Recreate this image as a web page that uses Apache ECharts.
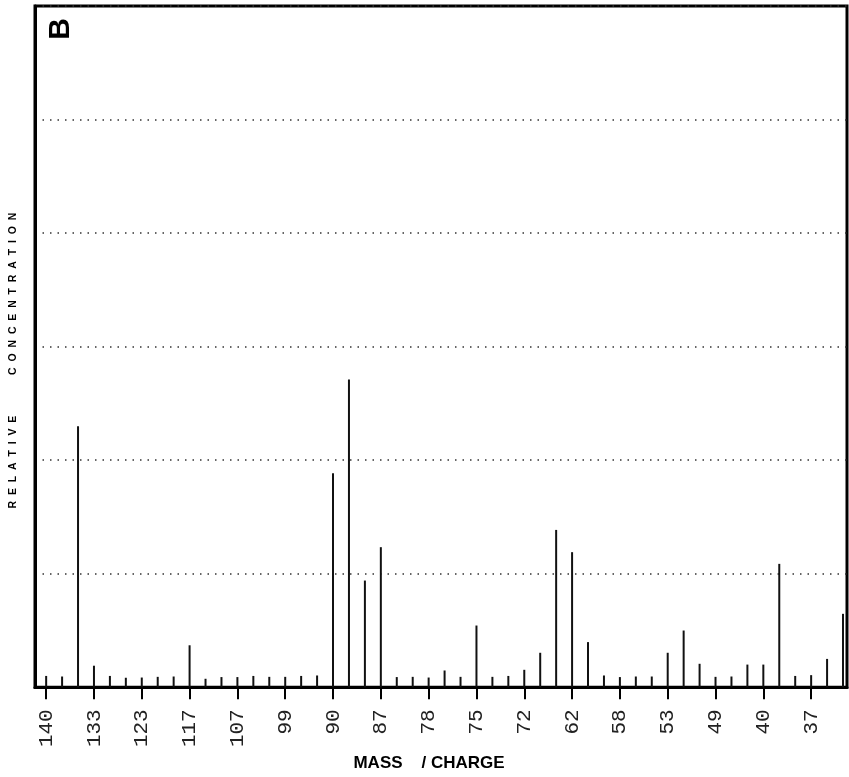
<!DOCTYPE html>
<html>
<head>
<meta charset="utf-8">
<script src="https://cdn.jsdelivr.net/npm/echarts@6/dist/echarts.min.js"></script>
<style>
html,body{margin:0;padding:0;background:#fff;}
#chart{width:849px;height:777px;}
</style>
</head>
<body>
<div id="chart"></div>
<script>
// Tick labels shown under every third peak slot (mass / charge)
const tickLabels = ["140","133","123","117","107","99","90","87","78","75","72","62","58","53","49","40","37"];
// Slot index of each labelled tick
const tickSlots = [0,3,6,9,12,15,18,21,24,27,30,33,36,39,42,45,48];
// Relative concentration of each peak slot, left to right (51 slots)
const peakValues = [
  0.10, 0.095, 2.30, 0.19, 0.10, 0.084, 0.086, 0.092, 0.095, 0.37,
  0.075, 0.09, 0.09, 0.10, 0.092, 0.092, 0.10, 0.104, 1.885, 2.71,
  0.94, 1.234, 0.09, 0.092, 0.086, 0.148, 0.092, 0.544, 0.092, 0.10,
  0.154, 0.304, 1.386, 1.19, 0.398, 0.104, 0.09, 0.095, 0.095, 0.304,
  0.50, 0.207, 0.092, 0.095, 0.20, 0.20, 1.087, 0.10, 0.107, 0.25,
  0.647
];
const panelLabel = "B";
const xName = "MASS    / CHARGE";
const yName = "R  E  L  A  T  I  V  E              C  O  N  C  E  N  T  R  A  T  I  O  N";

const chart = echarts.init(document.getElementById('chart'), null, {renderer:'canvas'});
const seriesData = peakValues.map((v, i) => [i, v]);

chart.setOption({
  animation: false,
  backgroundColor: '#ffffff',
  grid: {
    left: 35, right: 2, top: 6, bottom: 88,
    show: true, borderColor: '#000', borderWidth: 3, backgroundColor: 'transparent'
  },
  xAxis: {
    type: 'value',
    min: -0.7,
    max: 50.25,
    splitLine: {show: false},
    axisLine: {show: true, onZero: false, lineStyle: {color: '#000', width: 3}},
    axisTick: {
      show: true, inside: false, length: 12, customValues: tickSlots,
      lineStyle: {color: '#000', width: 2}
    },
    axisLabel: {
      show: true,
      customValues: tickSlots,
      rotate: 90,
      margin: 22,
      color: '#222',
      fontFamily: 'Liberation Mono',
      fontSize: 21,
      formatter: function (v) {
        const k = tickSlots.indexOf(Math.round(v));
        return k >= 0 ? tickLabels[k] : '';
      }
    },
    name: xName,
    nameLocation: 'middle',
    nameGap: 62,
    nameTextStyle: {
      color: '#000', fontFamily: 'Liberation Sans', fontWeight: 'bold', fontSize: 17,
      padding: [0, 24, 0, 0]
    }
  },
  yAxis: {
    type: 'value',
    min: 0,
    max: 6,
    interval: 1,
    axisLine: {show: true, onZero: false, lineStyle: {color: '#000', width: 3}},
    axisTick: {show: false},
    axisLabel: {show: false},
    splitLine: {
      show: true,
      lineStyle: {color: '#333', width: 1.5, type: [1.5, 6]}
    },
    name: yName,
    nameLocation: 'middle',
    nameGap: 16,
    nameTextStyle: {
      color: '#000', fontFamily: 'Liberation Sans', fontWeight: 'bold', fontSize: 10.5,
      padding: [0, 28, 0, 0]
    }
  },
  graphic: [{
    type: 'text',
    x: 61, y: 29,
    rotation: Math.PI / 2,
    style: {
      text: panelLabel,
      font: 'bold 30px "Liberation Sans"',
      fill: '#000',
      textAlign: 'center',
      textVerticalAlign: 'middle'
    }
  }],
  series: [{
    type: 'bar',
    data: seriesData,
    barWidth: 2,
    itemStyle: {color: '#111'},
    silent: true
  }]
});
</script>
</body>
</html>
